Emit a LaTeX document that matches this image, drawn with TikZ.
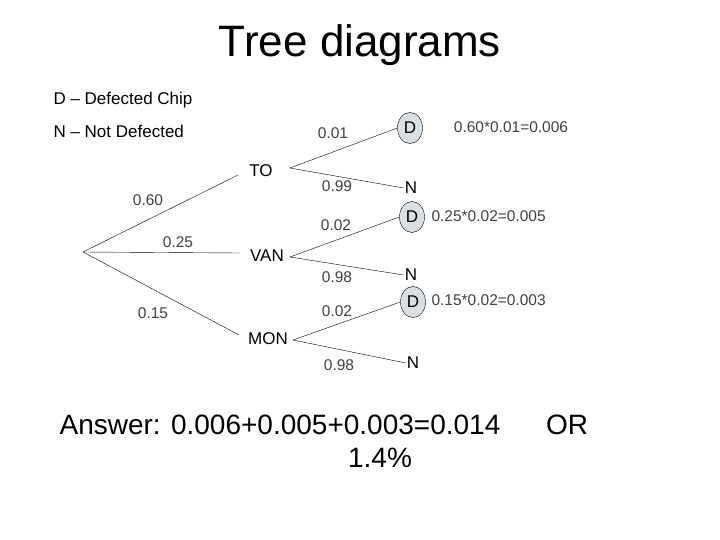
\documentclass[tikz,border=0pt]{standalone}
\usepackage{fontspec}
\setmainfont{Liberation Sans}
\usetikzlibrary{shapes.geometric}
\begin{document}
\begin{tikzpicture}[x=1pt,y=-1pt,
  lbl/.style={font=\fontsize{15.5}{17}\selectfont, text=black!75},
  cat/.style={font=\fontsize{17}{19}\selectfont, inner sep=1pt},
  dnode/.style={ellipse, draw=black, fill=cyan!15!gray!30, minimum width=25, minimum height=31, inner sep=0pt, font=\fontsize{17}{19}\selectfont},
  nnode/.style={font=\fontsize{17}{19}\selectfont, inner sep=1pt},
  big/.style={font=\fontsize{28}{32}\selectfont}]
\useasboundingbox (0,0) rectangle (720,540);
\node (title) at (360,45) {\fontsize{44}{50}\selectfont Tree diagrams};
\node[anchor=west, font=\fontsize{17}{19}\selectfont] (l1) at (50,100) {D -- Defected Chip};
\node[anchor=west, font=\fontsize{17}{19}\selectfont] (l2) at (50,131) {N -- Not Defected};
\coordinate (root) at (83,252);
\node[cat] (to) at (261,171) {TO};
\node[cat] (van) at (267,256) {VAN};
\node[cat] (mon) at (268,339) {MON};
\coordinate (toL) at (238,175); \coordinate (toR) at (290,168);
\coordinate (vanL) at (240,253); \coordinate (vanR) at (290,257);
\coordinate (monL) at (239,335); \coordinate (monR) at (293,340);
\node[dnode] (d1) at (410,128) {D};
\node[dnode] (d2) at (412,217) {D};
\node[dnode] (d3) at (413,302) {D};
\node[nnode] (n1) at (411,188) {N};
\node[nnode] (n2) at (411,275) {N};
\node[nnode] (n3) at (413,363) {N};
\draw (root) -- (toL); \draw (root) -- (vanL); \draw (root) -- (monL);
\draw (toR) -- (d1.west); \draw (toR) -- (n1.west);
\draw (vanR) -- (d2.west); \draw (vanR) -- (n2.west);
\draw (monR) -- (d3.west); \draw (monR) -- (n3.west);
\node[lbl] (p1) at (148,200) {0.60};
\node[lbl] (p2) at (178,242) {0.25};
\node[lbl] (p3) at (153,313) {0.15};
\node[lbl] (q1) at (333,133) {0.01};
\node[lbl] (q2) at (337,186) {0.99};
\node[lbl] (q3) at (336,225) {0.02};
\node[lbl] (q4) at (337,277) {0.98};
\node[lbl] (q5) at (337,311) {0.02};
\node[lbl] (q6) at (339,365) {0.98};
\node[lbl] (r1) at (511,127) {0.60*0.01=0.006};
\node[lbl, anchor=west] (r2) at (428,216) {0.25*0.02=0.005};
\node[lbl, anchor=west] (r3) at (428,300) {0.15*0.02=0.003};
\node[big] (ans) at (280,425) {Answer: 0.006+0.005+0.003=0.014};
\node[big] (or) at (567,425) {OR};
\node[big] (pct) at (380,458) {1.4\%};
\end{tikzpicture}
\end{document}
